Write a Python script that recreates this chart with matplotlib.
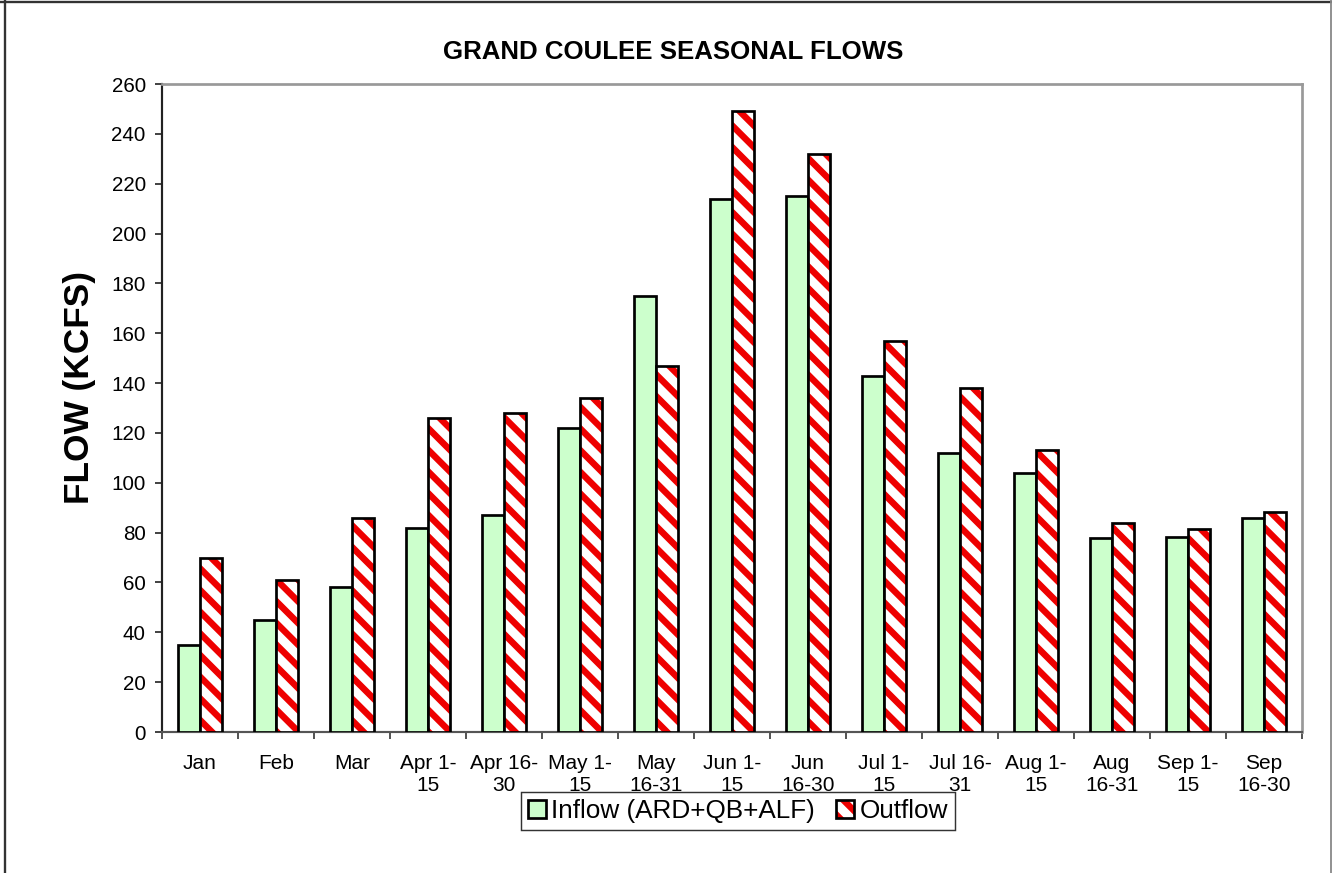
import matplotlib
matplotlib.use("Agg")
import matplotlib.pyplot as plt
from matplotlib.patches import Patch
from matplotlib.lines import Line2D
from matplotlib.legend_handler import HandlerTuple
import numpy as np

plt.rcParams['font.family'] = ['Liberation Sans', 'DejaVu Sans']
plt.rcParams['hatch.linewidth'] = 3.6

categories = ["Jan", "Feb", "Mar", "Apr 1-\n15", "Apr 16-\n30", "May 1-\n15", "May\n16-31",
              "Jun 1-\n15", "Jun\n16-30", "Jul 1-\n15", "Jul 16-\n31", "Aug 1-\n15",
              "Aug\n16-31", "Sep 1-\n15", "Sep\n16-30"]
inflow = [35, 45, 58, 82, 87, 122, 175, 214, 215, 143, 112, 104, 77.7, 78.4, 85.8]
outflow = [70, 61, 86, 126, 128, 134, 147, 249, 232, 157, 138, 113, 84, 81.3, 88.3]
yticks = list(range(0, 261, 20))

DPI = 130
W, H = 1332, 873
fig = plt.figure(figsize=(W / DPI, H / DPI), dpi=DPI)
ax = fig.add_axes([162 / W, 1 - 732 / H, (1302 - 162) / W, (732 - 84) / H])

x = np.arange(len(categories))
bw = 0.283
green = '#CCFFCC'
ax.bar(x - bw / 2, inflow, bw, color=green, edgecolor='black', linewidth=1.5, zorder=3)
ax.bar(x + bw / 2, outflow, bw, facecolor='white', edgecolor='#EE0000', hatch='\\\\', linewidth=0, zorder=3)
ax.bar(x + bw / 2, outflow, bw, facecolor='none', edgecolor='black', linewidth=1.5, zorder=4)

ax.set_xlim(-0.5, len(categories) - 0.5)
ax.set_ylim(0, 260)
ax.set_yticks(yticks)
ax.set_yticklabels([str(v) for v in yticks], fontsize=11.4)
ax.set_xticks(x)
ax.set_xticklabels(categories, fontsize=11.6, linespacing=1.25)
ax.set_xticks(np.arange(-0.5, len(categories), 1.0), minor=True)
ax.tick_params(axis='x', which='major', length=0, pad=12)
ax.tick_params(axis='x', which='minor', length=4, width=1.0, direction='out', color='#444')
ax.tick_params(axis='y', length=4, width=1.0, direction='out', color='#333', pad=5)

for s in ['top', 'right']:
    ax.spines[s].set_color('#999999')
    ax.spines[s].set_linewidth(1.5)
ax.spines['left'].set_color('#222222')
ax.spines['left'].set_linewidth(1.2)
ax.spines['bottom'].set_color('#555555')
ax.spines['bottom'].set_linewidth(1.2)

fig.text(673 / W, 1 - 52 / H, "GRAND COULEE SEASONAL FLOWS", ha='center', va='center',
         fontsize=14.3, fontweight='bold')
fig.text(80 / W, 1 - 388 / H, "FLOW (KCFS)", ha='center', va='center', rotation=90,
         fontsize=19.5, fontweight='bold')

h_in = Patch(facecolor=green, edgecolor='black', linewidth=1.5)
h_out_bg = Patch(facecolor='white', edgecolor='#EE0000', hatch='\\\\', linewidth=0)
h_out_fr = Patch(facecolor='none', edgecolor='black', linewidth=1.5)
leg = fig.legend([h_in, (h_out_bg, h_out_fr)], ["Inflow (ARD+QB+ALF)", "Outflow"],
                 handler_map={tuple: HandlerTuple(ndivide=1)},
                 loc='center', bbox_to_anchor=(738 / W, 1 - 811 / H), ncol=2,
                 fontsize=14.5, frameon=True, fancybox=False, edgecolor='black',
                 handlelength=0.7, handleheight=0.7, handletextpad=0.2, columnspacing=0.8,
                 borderpad=0.25, borderaxespad=0)
leg.get_frame().set_linewidth(0.8)

fig.add_artist(Line2D([4.5 / W, 4.5 / W], [0, 1], color='#333333', linewidth=1.3))
fig.add_artist(Line2D([0, 1], [1 - 1.5 / H, 1 - 1.5 / H], color='#333333', linewidth=1.3))
fig.add_artist(Line2D([1 - 1.5 / W, 1 - 1.5 / W], [0, 1], color='#888888', linewidth=1.0))

fig.savefig("out.png", dpi=DPI)
